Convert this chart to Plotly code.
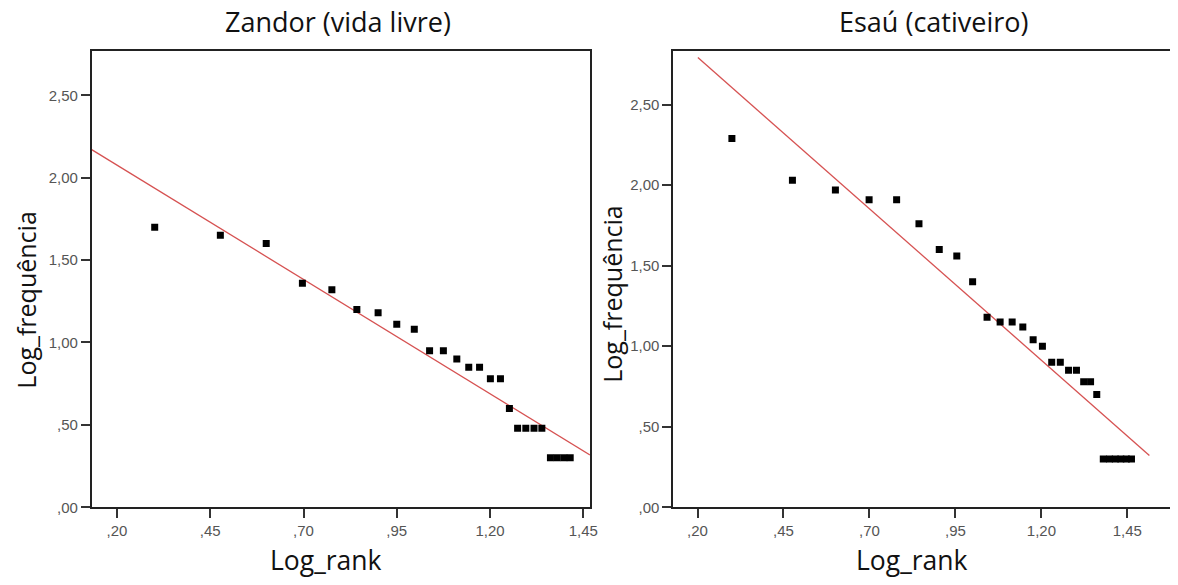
import plotly.graph_objects as go

# ---- data ----
zandor_log_rank = [0.301, 0.477, 0.600, 0.697, 0.776, 0.843, 0.900, 0.950, 0.997,
                   1.038, 1.075, 1.111, 1.143, 1.172, 1.201, 1.228, 1.252, 1.274,
                   1.296, 1.318, 1.339, 1.362, 1.380, 1.398, 1.415]
zandor_log_freq = [1.70, 1.65, 1.60, 1.36, 1.32, 1.20, 1.18, 1.11, 1.08,
                   0.95, 0.95, 0.90, 0.85, 0.85, 0.78, 0.78, 0.60, 0.48,
                   0.48, 0.48, 0.48, 0.30, 0.30, 0.30, 0.30]
zandor_fit_x = [0.132, 1.468]
zandor_fit_y = [2.170, 0.318]

esau_log_rank = [0.300, 0.476, 0.601, 0.699, 0.779, 0.844, 0.903, 0.954, 1.000,
                 1.042, 1.080, 1.115, 1.146, 1.176, 1.203, 1.230, 1.255, 1.279,
                 1.302, 1.323, 1.343, 1.361, 1.380, 1.398, 1.415, 1.431, 1.447, 1.462]
esau_log_freq = [2.29, 2.03, 1.97, 1.91, 1.91, 1.76, 1.60, 1.56, 1.40,
                 1.18, 1.15, 1.15, 1.12, 1.04, 1.00, 0.90, 0.90, 0.85,
                 0.85, 0.78, 0.78, 0.70, 0.30, 0.30, 0.30, 0.30, 0.30, 0.30]
esau_fit_x = [0.201, 1.514]
esau_fit_y = [2.792, 0.322]

x_tick_vals = [0.20, 0.45, 0.70, 0.95, 1.20, 1.45]
x_tick_text = [",20", ",45", ",70", ",95", "1,20", "1,45"]
y_tick_vals = [0.0, 0.5, 1.0, 1.5, 2.0, 2.5]
y_tick_text = [",00", ",50", "1,00", "1,50", "2,00", "2,50"]

titles = ["Zandor (vida livre)", "Esaú (cativeiro)"]
x_title = "Log_rank"
y_title = "Log_frequência"

W, H = 1178, 585
LINE_RED = "rgb(214,82,82)"

fig = go.Figure()

fig.add_trace(go.Scatter(x=zandor_fit_x, y=zandor_fit_y, mode="lines",
                         line=dict(color=LINE_RED, width=1.3),
                         xaxis="x", yaxis="y", showlegend=False))
fig.add_trace(go.Scatter(x=zandor_log_rank, y=zandor_log_freq, mode="markers",
                         marker=dict(symbol="square", size=7, color="black"),
                         xaxis="x", yaxis="y", showlegend=False))
fig.add_trace(go.Scatter(x=esau_fit_x, y=esau_fit_y, mode="lines",
                         line=dict(color=LINE_RED, width=1.3),
                         xaxis="x2", yaxis="y2", showlegend=False))
fig.add_trace(go.Scatter(x=esau_log_rank, y=esau_log_freq, mode="markers",
                         marker=dict(symbol="square", size=7, color="black"),
                         xaxis="x2", yaxis="y2", showlegend=False))

tick_font = dict(family="Liberation Sans, Arial, sans-serif", size=15, color="#555555")
axis_common = dict(showgrid=False, zeroline=False, showline=True, linecolor="#222222",
                   linewidth=1.5, ticks="outside", ticklen=9, tickwidth=1.5,
                   tickcolor="#333333", tickfont=tick_font, fixedrange=True)

y_bot = 1 - 514.3 / H
y_top = 1 - 51.5 / H

fig.update_layout(
    width=W, height=H,
    margin=dict(l=0, r=0, t=0, b=0),
    paper_bgcolor="white", plot_bgcolor="white",
    xaxis=dict(domain=[92.3 / W, 594 / W], range=[0.132, 1.468],
               tickvals=x_tick_vals, ticktext=x_tick_text, mirror=True,
               anchor="y", **axis_common),
    yaxis=dict(domain=[y_bot, y_top], range=[0, 2.77],
               tickvals=y_tick_vals, ticktext=y_tick_text, mirror=True,
               anchor="x", **axis_common),
    xaxis2=dict(domain=[677.7 / W, 1.0], range=[0.129, 1.574],
                tickvals=x_tick_vals, ticktext=x_tick_text, mirror=True,
                anchor="y2", **axis_common),
    yaxis2=dict(domain=[y_bot, 1 - 51.7 / H], range=[0, 2.833],
                tickvals=y_tick_vals, ticktext=y_tick_text, mirror=False,
                anchor="x2", **axis_common),
)

title_font = dict(family="Open Sans, sans-serif", size=27, color="#111111")
xlabel_font = dict(family="Open Sans, sans-serif", size=26.5, color="#111111")
ylabel_font = dict(family="Open Sans, sans-serif", size=25, color="#111111")

annots = [
    dict(text=titles[0], x=340 / W, y=1 - 22 / H, font=title_font, textangle=0),
    dict(text=titles[1], x=940 / W, y=1 - 22 / H, font=title_font, textangle=0),
    dict(text=x_title, x=328 / W, y=1 - 568 / H, font=xlabel_font, textangle=0),
    dict(text=x_title, x=918 / W, y=1 - 568 / H, font=xlabel_font, textangle=0),
    dict(text=y_title, x=26 / W, y=1 - 304 / H, font=ylabel_font, textangle=-90),
    dict(text=y_title, x=616 / W, y=1 - 298 / H, font=ylabel_font, textangle=-90),
]
for a in annots:
    fig.add_annotation(xref="paper", yref="paper", xanchor="center", yanchor="middle",
                       showarrow=False, **a)

post = ("document.body.style.margin='0';document.body.style.padding='0';"
        "document.body.style.overflow='hidden';"
        "var gd=document.getElementById('{plot_id}');"
        "Plotly.relayout(gd,{width:%d,height:%d});" % (W, H))

fig.write_html("out.html", post_script=post, config={"displayModeBar": False})
